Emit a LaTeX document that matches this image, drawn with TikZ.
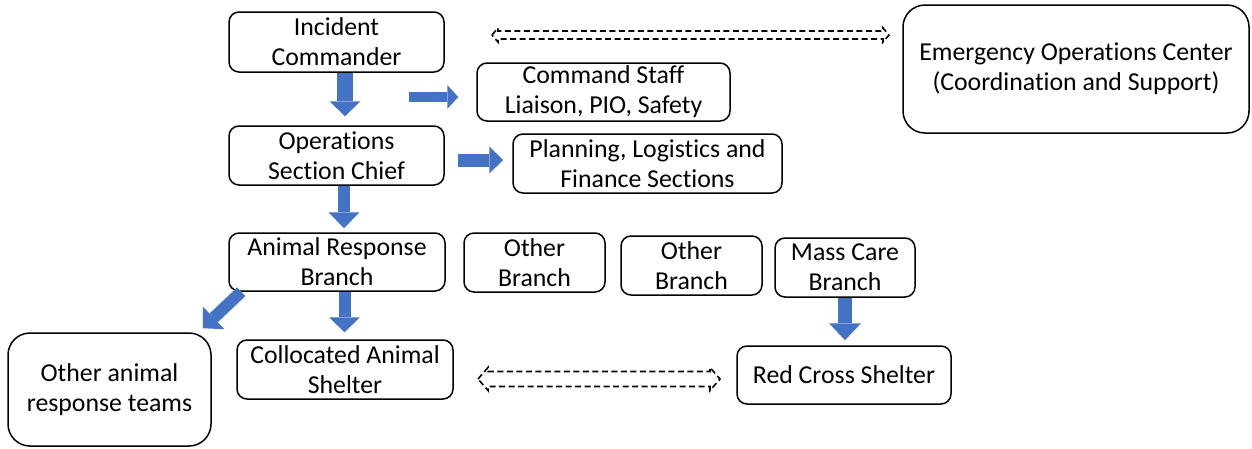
\documentclass[tikz,border=0pt]{standalone}
\usepackage{fontspec}
\setmainfont{Carlito}[RawFeature={-liga;-calt;-clig}]
\usetikzlibrary{arrows.meta,calc}

\definecolor{arrowblue}{HTML}{4472C4}

% Hollow, dashed double-headed arrow from #1 to #2 (horizontal):
% #3 = half shaft thickness, #4 = half head width, #5 = head length
\newcommand\hollowdbl[5]{%
  \draw[dasharrow] (#1) -- ++(#5,-#4) -- ++(0,#4-#3) -- ($(#2)+(-#5,-#3)$)
    -- ++(0,#3-#4) -- (#2) -- ++(-#5,#4) -- ++(0,#3-#4)
    -- ($(#1)+(#5,#3)$) -- ++(0,#4-#3) -- cycle;}

\begin{document}
\begin{tikzpicture}[x=1pt,y=-1pt,
  every node/.style={font=\fontsize{25.8}{30}\selectfont, align=center, inner sep=0pt},
  box/.style={draw=black, line width=1.5pt, rounded corners=10pt, fill=white},
  bigbox/.style={box, rounded corners=22pt},
  dasharrow/.style={draw=black, line width=1.6pt, dash pattern=on 6pt off 3.5pt},
  blockarrow/.style n args={3}{draw=arrowblue, line width=#1,
    -{Triangle[length=#3, width=#2, line width=0pt]}}
]
\useasboundingbox (0,0) rectangle (1252,448);

% boxes
\node[box, minimum width=215pt, minimum height=60pt] (ic) at (336.5,42) {Incident\\Commander};
\node[box, minimum width=253pt, minimum height=58pt] (cs) at (603.5,92) {Command Staff\\Liaison, PIO, Safety};
\node[bigbox, minimum width=346pt, minimum height=128pt] (eoc) at (1076,69) {Emergency Operations Center\\(Coordination and Support)};
\node[box, minimum width=215pt, minimum height=59pt] (osc) at (336.5,155.5) {Operations\\Section Chief};
\node[box, minimum width=269pt, minimum height=59pt] (pls) at (647.5,163.5) {Planning, Logistics and\\Finance Sections};
\node[box, minimum width=216pt, minimum height=58pt] (arb) at (337,262) {Animal Response\\Branch};
\node[box, minimum width=141pt, minimum height=59pt] (ob1) at (534.5,262.5) {Other\\Branch};
\node[box, minimum width=141pt, minimum height=59pt] (ob2) at (691.5,265.5) {Other\\Branch};
\node[box, minimum width=140pt, minimum height=59pt] (mcb) at (845,267.5) {Mass Care\\Branch};
\node[bigbox, minimum width=203pt, minimum height=113pt] (oart) at (109.5,389.5) {Other animal\\response teams};
\node[box, minimum width=216pt, minimum height=59pt] (cas) at (345,369.5) {Collocated Animal\\Shelter};
\node[box, minimum width=214pt, minimum height=58pt] (rcs) at (844,375) {Red Cross Shelter};

% block arrows
\draw[blockarrow={16pt}{31pt}{15pt}, shorten >=9pt]
  ([xshift=8.5pt]ic.south) -- ([xshift=8.5pt]osc.north);
\draw[blockarrow={10pt}{24pt}{11pt}]
  ([shift={(-67pt,-5pt)}]cs.west) -- ([shift={(-18pt,-5pt)}]cs.west);
\draw[blockarrow={13pt}{27pt}{14pt}]
  ([shift={(13pt,-4.5pt)}]osc.east) -- ([shift={(-9pt,3.5pt)}]pls.west);
\draw[blockarrow={12pt}{31pt}{16pt}, shorten >=4pt]
  ([xshift=7.5pt]osc.south) -- ([xshift=7pt]arb.north);
\draw[blockarrow={12pt}{31pt}{15pt}, shorten >=7pt]
  ([xshift=7.5pt]arb.south) -- ([xshift=-0.5pt]cas.north);
\draw[blockarrow={12pt}{31pt}{15pt}]
  ([xshift=13pt]arb.south west) -- ([shift={(-9pt,4pt)}]oart.north east);
\draw[blockarrow={14pt}{32pt}{17pt}, shorten >=5pt]
  (mcb.south) -- ([xshift=1pt]rcs.north);

% dashed two-way links
\coordinate (topL) at (492,35);
\coordinate (topR) at (889,35);
\coordinate (botL) at (478,379);
\coordinate (botR) at (720,379);
\hollowdbl{topL}{topR}{4}{7}{6}
\hollowdbl{botL}{botR}{7.5}{11.5}{10}
\end{tikzpicture}
\end{document}
